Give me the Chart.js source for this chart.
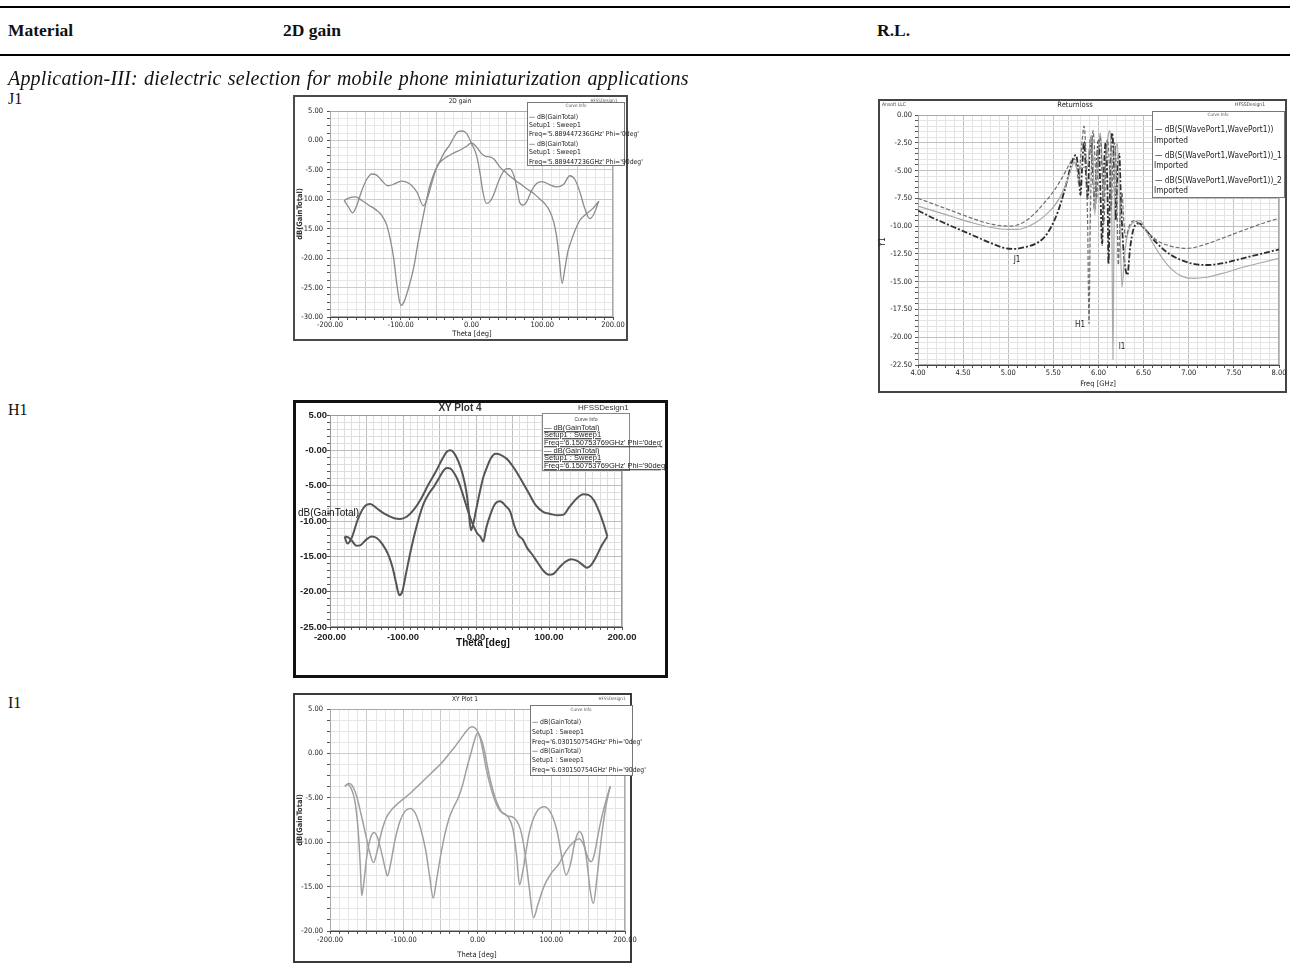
<!DOCTYPE html>
<html><head><meta charset="utf-8">
<script src="https://cdn.jsdelivr.net/npm/chart.js@4.4.1/dist/chart.umd.min.js"></script>
<style>
html,body{margin:0;padding:0;width:1290px;height:964px;overflow:hidden;background:#fff;}
.t{position:absolute;white-space:nowrap;line-height:1;}
.frame{position:absolute;background:#fff;box-sizing:border-box;}
.leg{position:absolute;background:#fff;border:1px solid #777;box-sizing:border-box;}
.rule{position:absolute;left:0;width:1290px;background:#000;}
canvas{position:absolute;}
</style></head><body>
<div class="rule" style="top:6px;height:2px"></div>
<div class="rule" style="top:54px;height:1.5px"></div>
<script>
// ---------------- DATA ----------------
const thetaJ1Phi0 = [-180,-174,-168,-162,-155,-148,-141,-134,-127,-118,-109,-99,-92,-85,-77,-68,-62,-56,-49,-42,-35,-28,-21,-14,-7,0,7,14,20,26,32,40,50,59,68,78,88,96,104,111,116,120,124,128,132,136,140,146,153,162,172,180];
const gainJ1Phi0  = [-10.2,-11.3,-12.3,-11.0,-8.5,-6.6,-5.7,-5.9,-6.8,-7.7,-7.4,-6.9,-7.1,-7.6,-8.8,-11.1,-9.7,-7.2,-4.5,-3.4,-2.8,-2.3,-1.9,-1.5,-1.0,-0.4,-1.1,-2.2,-2.7,-2.8,-3.2,-4.5,-5.6,-6.5,-7.3,-8.2,-9.0,-9.9,-10.8,-12.1,-13.8,-16.1,-20.0,-24.3,-21.8,-19.0,-17.4,-15.4,-13.6,-12.5,-11.5,-10.3];
const thetaJ1Phi90 = [-180,-172,-164,-155,-145,-135,-127,-120,-115,-110,-106,-102,-99,-95,-90,-82,-75,-68,-60,-54,-45,-38,-31,-25,-19,-13,-7,0,7,12,16,21,26,31,38,45,50,54,60,64,68,73,78,85,92,100,110,120,130,139,146,153,160,167,173,180];
const gainJ1Phi90  = [-10.2,-9.7,-9.6,-10.2,-11.0,-11.8,-12.7,-14.3,-16.7,-20.0,-24.0,-27.2,-28.0,-27.3,-25.5,-21.8,-17.0,-12.7,-8.2,-5.9,-3.6,-2.0,-0.8,0.5,1.5,1.6,1.2,-0.5,-2.5,-5.5,-8.7,-10.7,-10.4,-9.3,-7.0,-5.3,-4.8,-4.8,-6.0,-8.0,-10.5,-11.0,-10.4,-8.5,-7.3,-7.0,-7.5,-7.9,-7.5,-6.0,-6.6,-8.7,-11.5,-13.3,-12.5,-10.3];

const thetaH1Phi0 = [-180,-176,-170,-162,-153,-145,-136,-125,-112,-104,-95,-86,-75,-65,-55,-46,-40,-35,-30,-24,-18,-13,-10,-7,-4,0,5,10,15,20,27,33,42,52,62,72,82,92,102,112,120,128,138,147,154,161,168,175,180];
const gainH1Phi0  = [-12.2,-13.2,-12.3,-9.8,-8.0,-7.6,-8.2,-9.0,-9.6,-9.7,-9.4,-8.5,-6.8,-4.8,-3.0,-1.2,-0.2,0.0,-0.4,-1.6,-3.5,-6.0,-8.5,-11.3,-10.5,-8.5,-6.0,-3.8,-2.4,-1.2,-0.5,-0.6,-1.2,-2.5,-4.2,-6.0,-7.8,-8.7,-9.0,-9.2,-9.1,-8.0,-6.8,-6.2,-6.3,-7.0,-8.5,-10.5,-12.2];
const thetaH1Phi90 = [-180,-175,-170,-164,-158,-150,-143,-136,-128,-120,-114,-109,-105,-101,-96,-90,-84,-78,-72,-65,-58,-50,-44,-40,-35,-30,-25,-20,-14,-8,-3,2,6,10,14,20,26,33,40,47,52,58,64,70,76,84,92,100,106,114,122,130,138,146,152,158,165,172,180];
const gainH1Phi90  = [-12.2,-12.3,-12.8,-13.5,-13.4,-12.6,-12.2,-12.4,-13.3,-14.8,-16.7,-19.0,-20.5,-20.0,-17.5,-14.5,-11.8,-9.5,-7.6,-6.2,-5.2,-3.8,-2.8,-2.5,-2.6,-3.2,-4.2,-5.6,-7.6,-9.5,-10.8,-11.8,-12.2,-12.9,-11.0,-9.0,-7.6,-7.2,-7.8,-8.7,-10.5,-12.0,-12.6,-13.8,-14.6,-15.8,-17.0,-17.6,-17.5,-16.6,-15.8,-15.4,-15.6,-16.2,-16.6,-16.2,-15.0,-13.5,-12.2];

const thetaI1Phi0 = [-180,-175,-170,-164,-158,-152,-146,-141,-136,-130,-124,-118,-110,-100,-90,-80,-70,-60,-50,-40,-32,-25,-18,-12,-8,-4,0,4,8,12,16,20,25,30,40,50,58,64,70,76,82,90,100,110,120,130,138,144,150,154,158,165,172,180];
const gainI1Phi0  = [-3.7,-3.4,-3.6,-4.8,-6.8,-9.0,-11.2,-12.3,-11.0,-8.8,-7.3,-6.5,-5.8,-5.1,-4.4,-3.6,-2.8,-2.0,-1.2,-0.2,0.6,1.4,2.2,2.8,3.0,2.9,2.5,1.6,0.0,-1.8,-3.2,-4.4,-5.6,-6.4,-7.0,-7.3,-8.5,-11.0,-15.0,-18.5,-17.0,-15.0,-13.5,-12.5,-11.0,-10.0,-9.6,-10.3,-11.8,-12.2,-11.5,-8.5,-6.0,-3.7];
const thetaI1Phi90 = [-180,-176,-171,-166,-162,-159,-157,-154,-150,-145,-140,-135,-130,-125,-122,-118,-112,-105,-98,-91,-84,-77,-70,-65,-60,-56,-50,-44,-38,-32,-26,-20,-14,-8,-4,0,4,8,16,24,32,42,48,53,57,62,70,80,91,100,108,114,120,126,132,138,143,148,153,157,162,168,174,180];
const gainI1Phi90  = [-3.7,-3.5,-4.0,-5.5,-8.5,-12.5,-16.0,-14.5,-11.5,-9.5,-8.9,-9.6,-11.2,-13.0,-13.8,-12.5,-9.8,-7.6,-6.5,-6.2,-6.8,-8.5,-11.0,-13.8,-16.3,-14.5,-11.5,-9.0,-7.2,-6.0,-5.0,-3.5,-1.5,0.3,1.5,2.3,1.8,0.8,-2.5,-5.0,-6.5,-7.2,-8.5,-11.5,-14.8,-13.0,-9.0,-6.6,-6.0,-6.8,-8.8,-11.5,-13.7,-12.5,-10.0,-8.8,-9.5,-12.0,-15.5,-16.9,-14.0,-9.5,-6.0,-3.7];

const freqRL_H1 = [4.00,4.20,4.40,4.60,4.80,5.00,5.10,5.20,5.30,5.40,5.50,5.60,5.68,5.72,5.76,5.78,5.80,5.82,5.84,5.86,5.88,5.895,5.91,5.93,5.94,5.96,5.98,6.00,6.02,6.04,6.06,6.08,6.10,6.12,6.14,6.16,6.18,6.20,6.22,6.24,6.26,6.28,6.30,6.34,6.39,6.45,6.55,6.65,6.80,6.98,7.20,7.40,7.60,7.80,8.00];
const rlH1      = [-7.5,-8.1,-8.7,-9.3,-9.8,-10.0,-9.9,-9.5,-8.8,-7.9,-6.9,-5.6,-4.4,-3.9,-4.6,-6.2,-4.0,-2.2,-1.0,-3.5,-10.0,-18.8,-9.0,-2.5,-1.4,-3.8,-7.5,-3.5,-2.0,-5.5,-9.8,-4.0,-2.2,-4.5,-8.5,-4.0,-2.5,-6.0,-13.5,-9.0,-7.0,-9.5,-11.0,-10.0,-9.5,-9.8,-10.6,-11.3,-11.8,-12.0,-11.6,-11.0,-10.4,-9.8,-9.3];
const freqRL_I1 = [4.00,4.20,4.40,4.60,4.80,5.00,5.10,5.20,5.30,5.40,5.50,5.58,5.65,5.70,5.73,5.76,5.80,5.84,5.87,5.90,5.92,5.94,5.96,5.98,6.00,6.02,6.04,6.06,6.08,6.10,6.12,6.14,6.15,6.16,6.17,6.19,6.21,6.23,6.26,6.29,6.33,6.40,6.46,6.52,6.60,6.70,6.80,6.92,7.05,7.20,7.40,7.60,7.80,8.00];
const rlI1      = [-8.2,-8.7,-9.2,-9.7,-10.1,-10.3,-10.3,-10.1,-9.7,-9.1,-8.3,-7.3,-6.0,-4.8,-4.2,-4.8,-4.8,-4.7,-4.9,-3.0,-1.8,-4.5,-9.0,-5.0,-2.8,-1.6,-4.0,-7.5,-4.0,-2.4,-1.4,-3.5,-12.0,-22.0,-12.0,-3.0,-2.6,-7.0,-15.5,-12.5,-10.5,-9.6,-9.5,-10.3,-11.5,-12.8,-13.8,-14.5,-14.7,-14.6,-14.2,-13.7,-13.3,-12.9];
const freqRL_J1 = [4.00,4.20,4.40,4.60,4.80,4.95,5.07,5.18,5.30,5.40,5.48,5.55,5.62,5.68,5.72,5.75,5.78,5.80,5.82,5.84,5.86,5.88,5.90,5.92,5.94,5.96,5.98,6.00,6.02,6.04,6.06,6.08,6.10,6.11,6.13,6.15,6.17,6.19,6.21,6.23,6.25,6.28,6.32,6.35,6.39,6.45,6.52,6.62,6.75,6.90,7.05,7.20,7.40,7.60,7.80,8.00];
const rlJ1      = [-8.6,-9.4,-10.1,-10.8,-11.5,-11.95,-12.05,-11.9,-11.6,-11.0,-10.0,-8.7,-6.9,-5.0,-3.9,-3.6,-5.2,-7.2,-4.5,-2.4,-5.0,-7.5,-3.5,-2.0,-5.5,-8.5,-4.5,-2.3,-6.5,-11.7,-5.0,-2.5,-7.0,-13.4,-6.0,-1.6,-4.0,-9.5,-5.0,-3.5,-8.0,-12.5,-14.4,-12.0,-10.2,-9.75,-10.3,-11.3,-12.3,-13.0,-13.4,-13.5,-13.3,-12.9,-12.5,-12.1];

const thetaTickValues = [-200,-100,0,100,200];
const thetaTickText   = ['-200.00','-100.00','0.00','100.00','200.00'];
const gainTickValuesJ1 = [5,0,-5,-10,-15,-20,-25,-30];
const gainTickTextJ1   = ['5.00','0.00','-5.00','-10.00','-15.00','-20.00','-25.00','-30.00'];
const gainTickValuesH1 = [5,0,-5,-10,-15,-20,-25];
const gainTickTextH1   = ['5.00','-0.00','-5.00','-10.00','-15.00','-20.00','-25.00'];
const gainTickValuesI1 = [5,0,-5,-10,-15,-20];
const gainTickTextI1   = ['5.00','0.00','-5.00','-10.00','-15.00','-20.00'];
const freqTickValues = [4,4.5,5,5.5,6,6.5,7,7.5,8];
const freqTickText   = ['4.00','4.50','5.00','5.50','6.00','6.50','7.00','7.50','8.00'];
const rlTickValues = [0,-2.5,-5,-7.5,-10,-12.5,-15,-17.5,-20,-22.5];
const rlTickText   = ['0.00','-2.50','-5.00','-7.50','-10.00','-12.50','-15.00','-17.50','-20.00','-22.50'];

// ---------------- HELPERS ----------------
const NARROW = '"Liberation Sans Narrow","DejaVu Sans Condensed","Liberation Sans",Arial,sans-serif';
const SANS = '"Liberation Sans",Arial,sans-serif';
const SERIF = '"Liberation Serif","DejaVu Serif",serif';
function T(text, x, y, size, o){
  o = o || {};
  const d = document.createElement('div');
  d.className = 't';
  d.textContent = text;
  d.style.left = x + 'px'; d.style.top = y + 'px';
  d.style.fontSize = size + 'px';
  d.style.fontFamily = o.family || NARROW;
  d.style.color = o.color || '#222';
  if (o.weight) d.style.fontWeight = o.weight;
  if (o.style) d.style.fontStyle = o.style;
  if (o.ls) d.style.letterSpacing = o.ls + 'px';
  if (o.ws) d.style.wordSpacing = o.ws + 'px';
  if (o.ul) d.style.textDecoration = 'underline';
  const ax = o.align === 'c' ? '-50%' : (o.align === 'r' ? '-100%' : '0');
  d.style.transform = 'translate(' + ax + ',-50%)' + (o.rot ? ' rotate(' + o.rot + 'deg)' : '');
  d.style.zIndex = o.z || 5;
  document.body.appendChild(d);
  return d;
}
function box(cls, l, t, r, b, css){
  const d = document.createElement('div');
  d.className = cls;
  d.style.left = l + 'px'; d.style.top = t + 'px';
  d.style.width = (r - l) + 'px'; d.style.height = (b - t) + 'px';
  Object.assign(d.style, css || {});
  document.body.appendChild(d);
  return d;
}
function pts(xs, ys){ return xs.map((x, i) => ({x: x, y: ys[i]})); }
function labeler(vals, texts){
  return v => { const i = vals.findIndex(t => Math.abs(t - v) < 1e-6); return i >= 0 ? texts[i] : ''; };
}
function gridColor(major, cMinor, cMajor){
  return ctx => { const v = ctx.tick ? ctx.tick.value : 0; const r = v / major; return Math.abs(r - Math.round(r)) < 1e-6 ? cMajor : cMinor; };
}
const plotBox = {
  id: 'plotBox',
  beforeDatasetsDraw(chart, args, opts){
    const a = chart.chartArea, c = chart.ctx;
    c.save(); c.strokeStyle = opts.color || '#999'; c.lineWidth = 1;
    c.strokeRect(Math.round(a.left) + 0.5, Math.round(a.top) + 0.5, Math.round(a.width) - 1, Math.round(a.height) - 1);
    c.restore();
  }
};

function buildChart(o){
  const M = 24;
  const [fl, ft, fr, fb] = o.frame;
  const [pl, pt, pr, pb] = o.plot;
  const cl = fl - M, ct = ft - M, cw = fr - fl + 2 * M, ch = fb - ft + 2 * M;
  const cv = document.createElement('canvas');
  cv.width = cw; cv.height = ch;
  cv.style.left = cl + 'px'; cv.style.top = ct + 'px';
  cv.style.width = cw + 'px'; cv.style.height = ch + 'px';
  cv.style.zIndex = 2;
  document.body.appendChild(cv);
  const tickFont = {family: o.fontFamily || NARROW, size: o.fontSize, weight: o.fontWeight || 'normal'};
  new Chart(cv, {
    type: 'line',
    data: {datasets: o.datasets},
    plugins: [plotBox],
    options: {
      responsive: false, animation: false, devicePixelRatio: 1,
      layout: {padding: {left: 0, top: pt - ct, right: (cl + cw) - pr, bottom: 0}},
      plugins: {legend: {display: false}, tooltip: {enabled: false}, plotBox: {color: o.boxColor || '#999'}},
      elements: {point: {radius: 0}, line: {cubicInterpolationMode: 'monotone'}},
      scales: {
        x: {
          type: 'linear', min: o.x.min, max: o.x.max,
          afterFit(s){ s.height = (ct + ch) - pb; },
          ticks: {stepSize: o.x.step, autoSkip: false, maxRotation: 0, minRotation: 0, font: tickFont, color: o.tickColor || '#222', padding: o.x.pad, callback: labeler(o.x.vals, o.x.texts)},
          grid: {color: gridColor(o.x.major, o.gMinor, o.gMajor), lineWidth: 1, tickLength: 3, tickColor: '#555', drawTicks: true},
          border: {display: true, color: o.axisColor || '#444', width: 1}
        },
        y: {
          type: 'linear', min: o.y.min, max: o.y.max,
          afterFit(s){ s.width = pl - cl; },
          ticks: {stepSize: o.y.step, autoSkip: false, font: tickFont, color: o.tickColor || '#222', padding: o.y.pad, callback: labeler(o.y.vals, o.y.texts)},
          grid: {color: gridColor(o.y.major, o.gMinor, o.gMajor), lineWidth: 1, tickLength: 3, tickColor: '#555', drawTicks: true},
          border: {display: true, color: o.axisColor || '#444', width: 1}
        }
      }
    }
  });
}
function ds(xs, ys, color, width, dash){
  return {data: pts(xs, ys), borderColor: color, borderWidth: width, borderDash: dash || [], fill: false, pointRadius: 0};
}

// ---------------- TABLE TEXT ----------------
T('Material', 8, 31, 17.5, {family: SERIF, weight: 'bold', color: '#111'});
T('2D gain', 283, 31, 17.5, {family: SERIF, weight: 'bold', color: '#111'});
T('R.L.', 877, 31, 17.5, {family: SERIF, weight: 'bold', color: '#111'});
T('Application-III: dielectric selection for mobile phone miniaturization applications', 8, 78, 20, {family: SERIF, style: 'italic', color: '#111', ls: 0.2, ws: 1});
T('J1', 8, 99, 16, {family: SERIF, color: '#111'});
T('H1', 8, 410, 16, {family: SERIF, color: '#111'});
T('I1', 8, 703, 16, {family: SERIF, color: '#111'});

// ---------------- J1 2D GAIN ----------------
box('frame', 293, 95, 628, 341, {border: '2px solid #4a4a4a', zIndex: 1});
buildChart({
  frame: [293, 95, 628, 341], plot: [330, 111, 613, 317], fontSize: 7.5,
  gMinor: '#e6e6e6', gMajor: '#cdcdcd', boxColor: '#aaa',
  x: {min: -200, max: 200, step: 12.5, major: 50, vals: thetaTickValues, texts: thetaTickText, pad: 1},
  y: {min: -30, max: 5, step: 1.25, major: 5, vals: gainTickValuesJ1, texts: gainTickTextJ1, pad: 4},
  datasets: [ds(thetaJ1Phi0, gainJ1Phi0, '#8c8c8c', 1.3), ds(thetaJ1Phi90, gainJ1Phi90, '#8c8c8c', 1.3)]
});
T('2D gain', 460, 101, 6.5, {align: 'c'});
T('HFSSDesign1', 604, 101, 4.5, {align: 'c', color: '#555'});
T('dB(GainTotal)', 300, 214, 7.5, {align: 'c', rot: -90, weight: 'bold', color: '#333'});
T('Theta [deg]', 472, 334, 7.5, {align: 'c'});
box('leg', 527, 102, 625, 166, {zIndex: 4});
T('Curve Info', 576, 106, 4.5, {align: 'c', color: '#555'});
T('—  dB(GainTotal)', 529, 117, 6.8);
T('Setup1 : Sweep1', 529, 125, 6.8);
T("Freq='5.889447236GHz' Phi='0deg'", 529, 134, 6.8);
T('—  dB(GainTotal)', 529, 144, 6.8);
T('Setup1 : Sweep1', 529, 152, 6.8);
T("Freq='5.889447236GHz' Phi='90deg'", 529, 162, 6.8);

// ---------------- H1 2D GAIN ----------------
box('frame', 293, 400, 668, 678, {border: '3px solid #111', zIndex: 1});
buildChart({
  frame: [293, 400, 668, 678], plot: [330, 415, 622, 627], fontSize: 9.5, fontFamily: SANS, fontWeight: 'bold',
  gMinor: '#dedede', gMajor: '#bdbdbd', boxColor: '#999', tickColor: '#222',
  x: {min: -200, max: 200, step: 10, major: 50, vals: thetaTickValues, texts: thetaTickText, pad: 2},
  y: {min: -25, max: 5, step: 1, major: 5, vals: gainTickValuesH1, texts: gainTickTextH1, pad: 0},
  datasets: [ds(thetaH1Phi0, gainH1Phi0, '#555', 2), ds(thetaH1Phi90, gainH1Phi90, '#555', 2)]
});
T('XY Plot 4', 460, 408, 10, {align: 'c', family: SANS, weight: 'bold', color: '#333'});
T('HFSSDesign1', 578, 408, 8, {family: SANS, color: '#333'});
T('dB(GainTotal)', 298, 513, 10, {family: SANS, color: '#111', z: 6});
T('Theta [deg]', 483, 643, 10, {align: 'c', family: SANS, color: '#111', weight: 'bold'});
box('leg', 542, 413, 630, 471, {zIndex: 4, border: '1px solid #888'});
T('Curve Info', 586, 419, 5, {align: 'c', family: SANS, color: '#444'});
T('—  dB(GainTotal)', 544, 428, 7.5, {family: SANS, ul: true});
T('Setup1 : Sweep1', 544, 435, 7.5, {family: SANS, ul: true});
T("Freq='6.150753769GHz' Phi='0deg'", 544, 443, 7.5, {family: SANS, ul: true});
T('—  dB(GainTotal)', 544, 451, 7.5, {family: SANS, ul: true});
T('Setup1 : Sweep1', 544, 458, 7.5, {family: SANS, ul: true});
T("Freq='6.150753769GHz' Phi='90deg'", 544, 466, 7.5, {family: SANS, ul: true});

// ---------------- I1 2D GAIN ----------------
box('frame', 293, 693, 632, 963, {border: '2px solid #3a3a3a', zIndex: 1});
buildChart({
  frame: [293, 693, 632, 963], plot: [330, 709, 625, 931], fontSize: 7.5,
  gMinor: '#e6e6e6', gMajor: '#cdcdcd', boxColor: '#aaa',
  x: {min: -200, max: 200, step: 12.5, major: 50, vals: thetaTickValues, texts: thetaTickText, pad: 2},
  y: {min: -20, max: 5, step: 1.25, major: 5, vals: gainTickValuesI1, texts: gainTickTextI1, pad: 4},
  datasets: [ds(thetaI1Phi0, gainI1Phi0, '#a0a0a0', 1.5), ds(thetaI1Phi90, gainI1Phi90, '#a0a0a0', 1.5)]
});
T('XY Plot 1', 465, 699, 6.5, {align: 'c'});
T('HFSSDesign1', 612, 699, 4.5, {align: 'c', color: '#555'});
T('dB(GainTotal)', 300, 820, 7.5, {align: 'c', rot: -90, weight: 'bold', color: '#333'});
T('Theta [deg]', 477, 955, 7.5, {align: 'c'});
box('leg', 530, 705, 633, 776, {zIndex: 4});
T('Curve Info', 581, 710, 4.5, {align: 'c', color: '#555'});
T('—  dB(GainTotal)', 532, 722, 6.8);
T('Setup1 : Sweep1', 532, 732, 6.8);
T("Freq='6.030150754GHz' Phi='0deg'", 532, 742, 6.8);
T('—  dB(GainTotal)', 532, 751, 6.8);
T('Setup1 : Sweep1', 532, 760, 6.8);
T("Freq='6.030150754GHz' Phi='90deg'", 532, 770, 6.8);

// ---------------- RETURN LOSS ----------------
box('frame', 878, 99, 1287, 393, {border: '2px solid #444', zIndex: 1});
buildChart({
  frame: [878, 99, 1287, 393], plot: [918, 115, 1279, 365], fontSize: 7.5,
  gMinor: '#e4e4e4', gMajor: '#c0c0c0', boxColor: '#aaa',
  x: {min: 4, max: 8, step: 0.1, major: 0.5, vals: freqTickValues, texts: freqTickText, pad: 1},
  y: {min: -22.5, max: 0, step: 0.5, major: 2.5, vals: rlTickValues, texts: rlTickText, pad: 3},
  datasets: [
    ds(freqRL_H1, rlH1, '#6e6e6e', 1.2, [4, 2]),
    ds(freqRL_I1, rlI1, '#a8a8a8', 1.2),
    ds(freqRL_J1, rlJ1, '#2e2e2e', 1.8, [6, 2, 2, 2])
  ]
});
T('Returnloss', 1075, 105, 7.5, {align: 'c'});
T('Ansoft LLC', 882, 104, 5, {color: '#444'});
T('HFSSDesign1', 1250, 104, 5, {align: 'c', color: '#444'});
T('Y1', 883, 242, 8, {align: 'c', rot: -90});
T('Freq [GHz]', 1098, 384, 7.5, {align: 'c'});
T('J1', 1017, 260, 8, {align: 'c'});
T('H1', 1080, 325, 8, {align: 'c'});
T('I1', 1122, 347, 8, {align: 'c'});
box('leg', 1152, 111, 1285, 198, {zIndex: 4});
T('Curve Info', 1218, 115, 4.5, {align: 'c', color: '#555'});
T('—   dB(S(WavePort1,WavePort1))', 1155, 129, 8.3);
T('Imported', 1154, 140, 8.3);
T('—   dB(S(WavePort1,WavePort1))_1', 1155, 155, 8.3);
T('Imported', 1154, 165, 8.3);
T('—   dB(S(WavePort1,WavePort1))_2', 1155, 180, 8.3);
T('Imported', 1154, 190, 8.3);
</script>
</body></html>
